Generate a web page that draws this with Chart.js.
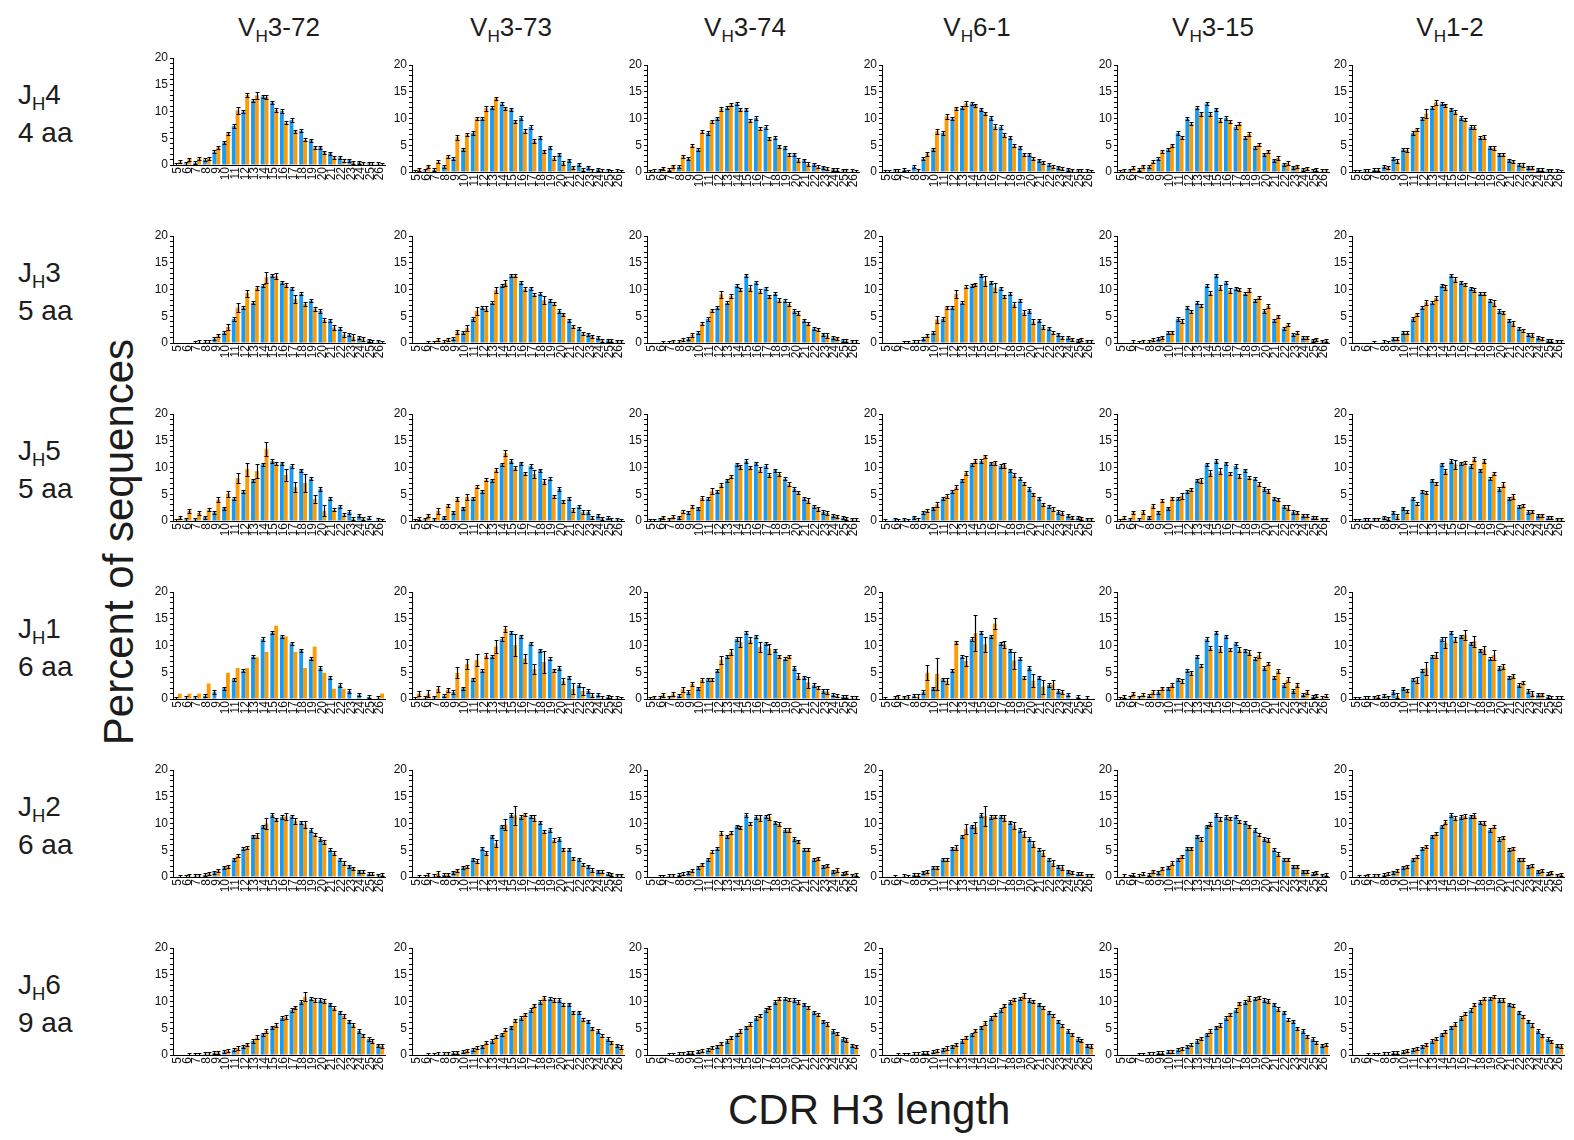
<!DOCTYPE html>
<html lang="en">
<head>
<meta charset="UTF-8">
<title>CDR H3 length by VH and JH</title>
<script src="https://cdn.jsdelivr.net/npm/chart.js"></script>
<style>
  body { margin: 0; background: #fff; }
  #page { position: relative; width: 1574px; height: 1140px; overflow: hidden;
          font-family: "Liberation Sans", Arial, sans-serif; color: #1c1c1c; }
  #page canvas { position: absolute; }
  .txt { position: absolute; white-space: nowrap; line-height: 1; }
  .sub { font-size: 0.66em; position: relative; top: 0.33em; }
  .colTitle { font-size: 26px; width: 200px; text-align: center; }
  .rowLabel { font-size: 28px; left: 18px; }
  .axisTitle { font-size: 42px; }
</style>
</head>
<body>
<div id="page"></div>

<script>
// CDR H3 lengths on the x axis
const lengths = ['5','6','7','8','9','10','11','12','13','14','15','16','17','18','19','20','21','22','23','24','25','26'];

const vGenes = ['3-72', '3-73', '3-74', '6-1', '3-15', '1-2'];
const jGenes = ['4', '3', '5', '1', '2', '6'];
const jLengths = ['4 aa', '5 aa', '5 aa', '6 aa', '6 aa', '9 aa'];

// blue bars: one distribution per JH row, shared by every VH column
const poolJH4 = [0.1,0.3,0.4,1.0,2.5,4.2,7.3,10.0,12.0,12.8,11.7,10.1,8.4,6.4,4.6,3.3,2.2,1.4,0.9,0.5,0.3,0.2];
const poolJH3 = [0,0,0.1,0.2,0.8,1.9,4.5,6.6,7.5,10.7,12.6,11.3,10.2,9.2,7.9,6.0,4.2,2.7,1.6,1.0,0.5,0.3];
const poolJH5 = [0.1,0.3,0.3,0.7,1.6,2.4,4.2,5.5,7.6,10.6,11.2,10.8,10.3,9.5,7.9,6.0,4.2,2.7,1.7,1.0,0.6,0.3];
const poolJH1 = [0.1,0.2,0.3,0.6,1.3,2.0,3.7,5.3,7.9,11.2,12.4,11.7,10.4,9.1,7.5,5.8,4.0,2.6,1.5,0.8,0.4,0.2];
const poolJH2 = [0,0.1,0.2,0.4,0.9,1.8,3.3,5.3,7.6,9.5,11.6,11.2,11.3,10.2,8.8,7.1,5.1,3.3,2.0,1.1,0.6,0.3];
const poolJH6 = [0,0,0.1,0.2,0.4,0.6,1.0,1.6,2.6,3.9,5.2,6.9,8.4,9.9,10.5,10.3,9.5,8.0,6.3,4.5,3.0,1.8];

// orange bars: one list per VH column (same order as vGenes)
const vhJH4 = [
  [0.6,1.1,1.2,1.2,3.3,5.9,10.2,13.1,13.0,12.7,10.3,7.9,6.3,4.7,3.3,2.4,1.4,0.8,0.5,0.3,0.2,0.1],
  [0.5,1.1,1.9,2.9,6.5,7.0,10.0,11.9,13.8,11.9,9.5,7.6,5.8,3.9,2.6,1.7,0.9,0.5,0.3,0.2,0.1,0.1],
  [0.2,0.7,1.1,2.9,4.9,7.5,9.5,11.8,12.6,11.7,9.6,8.1,6.3,4.8,3.3,2.3,1.5,1.0,0.6,0.4,0.3,0.1],
  [0.1,0.2,0.1,0.3,3.4,7.6,10.4,11.9,12.8,12.5,11.0,8.5,6.9,4.9,3.3,2.5,1.8,1.0,0.6,0.3,0.2,0.1],
  [0.3,0.8,1.1,1.9,3.9,5.0,6.5,9.0,10.9,10.8,9.7,9.5,9.0,7.1,5.1,3.9,2.6,1.7,1.1,0.7,0.4,0.3],
  [0.1,0.2,0.4,0.9,2.0,4.1,8.0,10.9,13.0,12.5,11.2,9.8,8.4,6.5,4.5,3.2,2.0,1.3,0.8,0.4,0.3,0.1]
];
const vhJH3 = [
  [0,0,0.2,0.2,1.4,3.0,6.6,9.3,10.3,12.3,12.5,10.9,8.2,7.3,6.4,4.3,2.9,1.6,1.1,0.7,0.2,0.1],
  [0,0.1,0.6,0.7,2.1,2.8,6.0,6.4,9.9,11.2,12.6,10.1,9.0,8.0,7.4,5.4,3.1,1.8,1.2,0.5,0.4,0.2],
  [0,0.1,0.3,0.6,1.5,3.6,6.1,9.1,8.8,10.0,10.3,9.7,8.7,8.0,7.3,5.6,3.6,2.5,1.4,0.9,0.4,0.2],
  [0,0,0.1,0.2,1.4,4.4,6.7,9.2,10.5,11.0,11.6,10.4,8.7,7.2,5.7,4.0,3.0,1.9,1.0,0.7,0.6,0.2],
  [0,0.2,0.3,0.6,1.1,2.0,4.1,5.9,7.0,9.3,10.4,9.8,10.0,9.9,8.5,6.9,5.0,3.4,1.9,1.1,0.7,0.4],
  [0,0,0,0.1,0.8,1.9,5.4,7.6,8.4,10.4,11.9,11.0,9.9,9.2,7.5,5.7,3.7,2.4,1.5,0.8,0.4,0.2]
];
const vhJH5 = [
  [0.6,1.9,1.5,2.1,4.0,5.1,8.0,9.7,9.3,13.5,10.7,8.6,6.3,7.1,4.1,1.9,2.1,1.2,0.4,0.5,0,0.1],
  [0.4,1.0,1.9,2.9,4.1,4.5,6.4,7.7,9.5,12.7,9.9,8.9,8.8,7.4,4.6,3.7,2.1,1.7,0.6,0.5,0.2,0.1],
  [0.1,0.7,0.8,1.8,2.7,4.3,5.6,6.7,8.3,10.1,10.0,9.6,8.6,8.8,6.9,5.3,3.8,2.3,1.5,0.9,0.5,0.2],
  [0,0.1,0.1,0.2,1.9,3.1,4.7,6.3,9.0,11.2,12.1,10.9,10.4,8.6,7.0,5.0,3.1,2.2,1.5,0.7,0.5,0.3],
  [0.6,1.6,1.7,2.8,3.8,4.2,4.7,5.9,7.6,9.0,9.3,8.9,8.4,8.1,6.9,5.6,4.0,2.5,1.6,1.0,0.6,0.3],
  [0.1,0.2,0.3,0.5,0.9,1.8,3.2,5.3,7.0,9.3,10.6,10.9,11.6,11.2,8.9,6.8,4.6,2.9,1.8,1.1,0.6,0.3]
];
const vhJH1 = [
  [1.0,1.0,1.0,2.9,0,4.9,5.8,5.8,7.8,8.8,13.7,11.7,8.8,5.8,9.8,4.9,1.9,1.9,0,0,0,1.0],
  [1.0,1.0,1.9,1.7,4.9,6.5,7.3,8.1,9.8,13.1,10.1,7.6,5.6,6.9,5.4,3.4,1.9,1.5,0.7,0.2,0.2,0.1],
  [0.3,0.8,0.9,1.8,2.8,3.6,3.7,7.3,8.8,10.6,11.0,9.7,9.4,8.0,8.0,4.3,3.1,2.2,1.4,0.6,0.4,0.2],
  [0,0.3,0.4,0.4,4.9,4.7,3.4,10.6,7.1,12.3,10.2,14.1,10.2,7.2,4.0,3.4,2.3,2.7,1.3,0,0,0],
  [0.4,1.0,0.8,1.3,2.0,2.6,3.4,4.9,6.2,9.5,9.4,9.3,9.2,8.7,8.2,6.6,5.2,3.6,2.6,1.3,0.7,0.6],
  [0.1,0.2,0.4,0.3,0.6,1.6,3.6,5.7,8.2,10.5,11.1,12.0,10.8,9.2,8.2,6.1,4.3,3.1,1.0,0.9,0.2,0.2]
];
const vhJH2 = [
  [0.1,0.2,0.3,0.7,1.2,2.0,4.0,5.5,7.8,10.0,10.8,11.3,10.5,9.8,7.9,6.6,4.5,2.6,1.6,1.0,0.6,0.4],
  [0.1,0.4,0.7,0.5,1.2,2.0,3.0,4.5,6.3,9.8,11.5,11.7,11.0,8.5,6.9,5.2,3.5,2.3,1.3,1.0,0.5,0.3],
  [0,0.1,0.3,0.6,1.2,2.4,4.7,8.2,8.3,9.3,10.0,11.0,11.2,9.9,8.8,6.7,5.1,3.5,2.2,1.3,0.8,0.4],
  [0,0,0.1,0.4,1.0,1.8,3.2,5.5,9.0,9.3,11.4,11.3,11.0,9.6,8.0,6.2,4.5,2.6,1.8,0.9,0.6,0.3],
  [0.2,0.4,0.6,1.1,1.6,2.6,3.9,5.4,7.1,9.9,10.8,11.0,10.4,9.5,7.9,6.9,4.3,3.3,2.0,1.1,0.8,0.4],
  [0.1,0.2,0.3,0.6,1.2,2.0,3.8,5.7,8.1,10.3,11.0,11.4,11.5,10.1,9.4,7.4,5.3,3.3,2.1,1.2,0.8,0.5]
];
const vhJH6 = [
  [0,0.1,0.1,0.3,0.5,0.8,1.3,2.0,3.3,4.5,5.6,7.1,8.9,10.9,10.3,10.1,8.8,7.3,5.6,3.7,2.6,1.7],
  [0,0.1,0.2,0.3,0.5,0.9,1.4,2.3,3.4,4.7,6.5,7.6,9.3,10.7,10.3,9.4,8.0,6.6,5.0,3.6,2.4,1.5],
  [0,0,0.1,0.3,0.5,0.8,1.4,2.2,3.3,4.5,5.8,7.4,8.9,10.5,10.4,9.9,8.9,7.5,5.8,4.0,2.8,1.6],
  [0,0.1,0.1,0.2,0.4,0.8,1.3,2.0,3.3,4.6,6.0,7.5,9.3,10.4,11.1,10.0,8.9,7.4,5.5,3.9,2.7,1.7],
  [0,0,0.1,0.2,0.4,0.7,1.2,1.9,3.1,4.5,5.6,7.6,9.7,10.6,10.8,10.1,8.6,6.6,5.0,3.5,2.3,1.9],
  [0,0.1,0.1,0.2,0.4,0.8,1.2,2.0,3.1,4.4,5.8,7.7,9.4,10.5,10.9,10.3,9.2,7.2,5.6,3.7,2.5,1.7]
];

// SEM of the orange bars, keyed by CDR H3 length; lengths not listed use SEM_DEFAULT,
// null means the column has no error bars
const SEM_DEFAULT = 0.3;
const errJH4 = [
  {11:0.6, 13:0.6, 14:0.4, 15:0.3},
  {9:0.5, 12:0.5, 16:0.4, 17:0.4},
  {8:0.3, 11:0.3, 12:0.4, 20:0.4},
  {9:0.4, 10:0.5, 11:0.4, 13:0.4, 16:0.5},
  {13:0.4, 14:0.4, 15:0.4},
  {9:0.4, 12:0.8, 13:0.5, 17:0.4, 18:0.4}
];
const errJH3 = [
  {10:0.5, 11:0.8, 12:0.7, 13:0.4, 14:1.0, 15:0.5, 16:0.4, 17:0.8, 19:0.4, 21:0.4, 22:0.4, 23:0.5, 24:0.4},
  {9:0.4, 10:0.6, 11:0.8, 12:0.5, 13:0.6, 14:0.6, 18:0.8},
  {12:0.6, 15:0.5, 16:0.4, 18:0.4, 20:0.4, 23:0.4},
  {10:0.6, 12:0.7, 15:1.0, 16:0.8, 18:0.4, 19:0.4, 20:0.5},
  {11:0.4, 14:0.4, 15:0.5, 16:0.5},
  {12:0.5, 13:0.4, 14:0.4, 15:0.5, 19:0.5, 21:0.5}
];
const errJH5 = [
  {6:0.4, 7:0.4, 9:0.4, 10:0.6, 11:0.9, 12:1.2, 13:1.3, 14:1.3, 16:1.2, 17:0.9, 18:1.6, 19:0.8, 20:1.0},
  {7:0.6, 9:0.4, 10:0.5, 13:0.4, 14:0.5, 17:0.7, 18:0.4, 21:0.4},
  {10:0.4, 11:0.6, 12:0.4, 16:0.5, 18:0.4, 19:0.4, 21:0.5, 22:0.4},
  {10:0.4, 11:0.4, 12:0.4, 13:0.4, 16:0.4, 17:0.4, 22:0.4},
  {11:0.5, 13:0.5, 14:0.5, 15:0.6, 19:0.4, 20:0.4, 22:0.4},
  {9:0.5, 14:0.5, 15:0.8, 20:0.4, 21:0.5}
];
const errJH1 = [
  null,
  {5:0.5, 6:0.6, 7:0.5, 8:0.4, 9:1.0, 10:0.9, 11:1.1, 12:0.5, 13:1.2, 14:0.6, 15:2.0, 16:0.9, 17:0.9, 18:2.0, 20:0.6, 21:1.0, 22:0.7, 23:0.4},
  {6:0.4, 7:0.4, 8:0.4, 9:0.4, 10:0.4, 12:0.8, 13:0.5, 14:0.9, 15:0.5, 16:1.0, 17:0.9, 20:0.5, 21:1.0, 23:0.4},
  {6:0.5, 7:0.4, 8:0.6, 9:1.4, 10:3.0, 11:0.6, 13:0.9, 14:3.4, 15:1.4, 16:1.0, 17:0.6, 18:1.6, 20:1.2, 21:1.3, 22:0.8, 23:0.4},
  {11:0.4, 12:0.4, 14:0.4, 15:0.6, 17:0.5, 18:0.5, 19:0.5, 21:0.4, 22:0.5},
  {9:0.5, 11:0.6, 12:1.2, 13:0.5, 14:1.0, 15:0.4, 16:0.9, 17:1.0, 18:0.8, 19:0.9, 20:0.4, 23:0.5}
];
const errJH2 = [
  {13:0.5, 14:1.0, 16:0.6, 17:0.5, 18:0.6, 20:0.4},
  {6:0.4, 7:0.5, 13:0.6, 14:1.0, 15:1.8, 17:0.6},
  {11:0.3, 12:0.4, 16:0.5, 17:0.6},
  {12:0.5, 13:1.0, 14:1.0, 15:1.8, 17:0.6, 18:0.7, 19:0.6, 20:0.5, 21:0.5, 22:0.5, 23:0.4},
  {14:0.4, 15:0.4, 21:0.3},
  {15:0.4, 16:0.4, 17:0.4}
];
const errJH6 = [
  {13:0.4, 14:0.4, 18:0.8},
  {18:0.4},
  {},
  {19:0.5},
  {18:0.5},
  {}
];

const pools = [poolJH4, poolJH3, poolJH5, poolJH1, poolJH2, poolJH6];
const vhSets = [vhJH4, vhJH3, vhJH5, vhJH1, vhJH2, vhJH6];
const errSets = [errJH4, errJH3, errJH5, errJH1, errJH2, errJH6];

// ---- layout ----
const BLUE = '#1a9bf2';
const ORANGE = '#ff9a00';
const colX = [173, 412, 647, 882, 1117, 1352];     // y-axis line of each column
const rowTop = [65, 236, 414, 592, 770, 948];      // pixel of the 20% tick in each row
const titleX = [279, 511, 745, 977, 1213, 1450];
const AXIS_W = 34, PLOT_W = 212, PLOT_H = 107, PAD_TOP = 8, PAD_RIGHT = 4, XAXIS_H = 22;

Chart.defaults.font.family = '"Liberation Sans", Arial, sans-serif';
Chart.defaults.color = '#111';

const page = document.getElementById('page');

function addText(cls, html, left, top) {
  const d = document.createElement('div');
  d.className = 'txt ' + cls;
  d.innerHTML = html;
  d.style.left = left + 'px';
  d.style.top = top + 'px';
  page.appendChild(d);
  return d;
}

vGenes.forEach((v, c) => addText('colTitle', 'V<span class="sub">H</span>' + v, titleX[c] - 100, 14));
jGenes.forEach((j, r) => {
  addText('rowLabel', 'J<span class="sub">H</span>' + j, 18, 81 + r * 178);
  addText('rowLabel', jLengths[r], 18, 119 + r * 178);
});
const yt = addText('axisTitle', 'Percent of sequences', -131, 521);
yt.style.width = '500px';
yt.style.textAlign = 'center';
yt.style.transform = 'rotate(-90deg)';
addText('axisTitle', 'CDR H3 length', 728, 1089);

// draws mean +/- SEM whiskers over each bar
const errorBars = {
  id: 'errorBars',
  afterDatasetsDraw(chart) {
    const ctx = chart.ctx;
    const y = chart.scales.y;
    ctx.save();
    ctx.strokeStyle = '#000';
    ctx.lineWidth = 1.2;
    chart.data.datasets.forEach((ds, i) => {
      if (!ds.errors) return;
      chart.getDatasetMeta(i).data.forEach((bar, j) => {
        const v = ds.data[j];
        const e = ds.errors[j];
        if (!v || e == null) return;
        const top = Math.round(y.getPixelForValue(v + e)) + 0.5;
        const bot = Math.round(y.getPixelForValue(Math.max(0, v - e))) + 0.5;
        const x = Math.round(bar.x) + 0.5;
        ctx.beginPath();
        ctx.moveTo(x, top); ctx.lineTo(x, bot);
        ctx.moveTo(x - 2, top); ctx.lineTo(x + 2, top);
        ctx.moveTo(x - 2, bot); ctx.lineTo(x + 2, bot);
        ctx.stroke();
      });
    });
    ctx.restore();
  }
};

function semList(map) {
  if (map === null) return null;
  return lengths.map(l => (map[l] !== undefined ? map[l] : SEM_DEFAULT));
}

function makePanel(r, c) {
  const canvas = document.createElement('canvas');
  canvas.width = AXIS_W + PLOT_W + PAD_RIGHT;
  canvas.height = PAD_TOP + PLOT_H + XAXIS_H;
  const top = (r === 0 && c === 0) ? 58 : rowTop[r];
  canvas.style.left = (colX[c] - AXIS_W) + 'px';
  canvas.style.top = (top - PAD_TOP) + 'px';
  page.appendChild(canvas);

  new Chart(canvas, {
    type: 'bar',
    data: {
      labels: lengths,
      datasets: [
        { data: pools[r], backgroundColor: BLUE, errors: semList({}) },
        { data: vhSets[r][c], backgroundColor: ORANGE, errors: semList(errSets[r][c]) }
      ]
    },
    options: {
      responsive: false,
      animation: false,
      devicePixelRatio: 1,
      layout: { padding: { top: PAD_TOP, right: PAD_RIGHT, left: 0, bottom: 0 } },
      plugins: { legend: { display: false }, tooltip: { enabled: false } },
      datasets: { bar: { barPercentage: 1, categoryPercentage: 0.8, borderWidth: 0 } },
      scales: {
        x: {
          ticks: { autoSkip: false, minRotation: 90, maxRotation: 90, padding: 2,
                   font: { size: 12 }, color: '#111' },
          grid: { drawOnChartArea: false, drawTicks: false },
          border: { color: '#000', width: 1 },
          afterFit(s) { s.height = XAXIS_H; s.paddingLeft = 0; s.paddingRight = 0; }
        },
        y: {
          min: 0, max: 20,
          ticks: { stepSize: 1, autoSkip: false, padding: 2, font: { size: 12 }, color: '#111',
                   callback: v => (v % 5 === 0 ? v : '') },
          grid: { drawOnChartArea: false, drawTicks: true, tickLength: 3, color: '#000' },
          border: { color: '#000', width: 1 },
          afterFit(s) { s.width = AXIS_W; s.paddingTop = 0; s.paddingBottom = 0; }
        }
      }
    },
    plugins: [errorBars]
  });
}

for (let r = 0; r < 6; r++) {
  for (let c = 0; c < 6; c++) makePanel(r, c);
}
</script>
</body>
</html>
